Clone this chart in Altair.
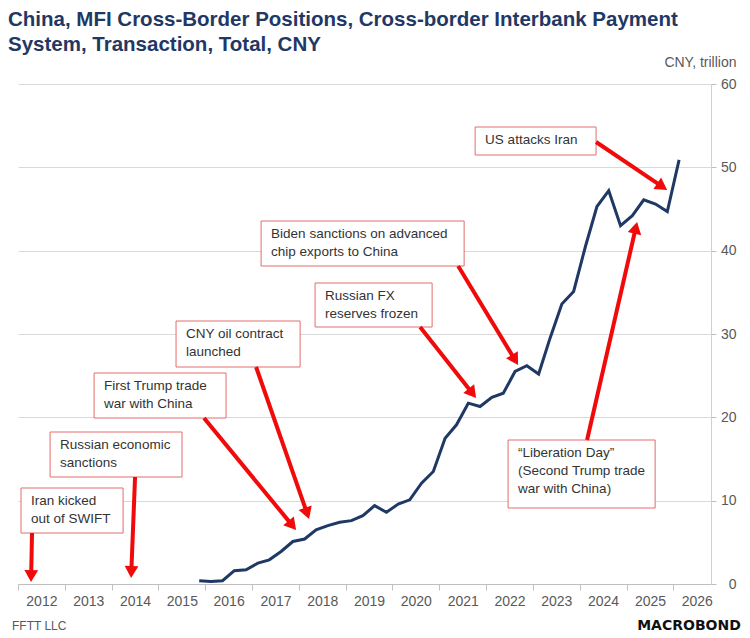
import math
import altair as alt
import pandas as pd

# ---------------- data ----------------
dates = ["2015-11-15", "2016-02-15", "2016-05-15", "2016-08-15", "2016-11-15",
         "2017-02-15", "2017-05-15", "2017-08-15", "2017-11-15",
         "2018-02-15", "2018-05-15", "2018-08-15", "2018-11-15",
         "2019-02-15", "2019-05-15", "2019-08-15", "2019-11-15",
         "2020-02-15", "2020-05-15", "2020-08-15", "2020-11-15",
         "2021-02-15", "2021-05-15", "2021-08-15", "2021-11-15",
         "2022-02-15", "2022-05-15", "2022-08-15", "2022-11-15",
         "2023-02-15", "2023-05-15", "2023-08-15", "2023-11-15",
         "2024-02-15", "2024-05-15", "2024-08-15", "2024-11-15",
         "2025-02-15", "2025-05-15", "2025-08-15", "2025-11-15",
         "2026-02-15"]
values = [0.4, 0.3, 0.4, 1.6, 1.7,
          2.5, 2.9, 3.9, 5.1,
          5.4, 6.5, 7.0, 7.4,
          7.6, 8.2, 9.4, 8.6,
          9.6, 10.1, 12.1, 13.5,
          17.5, 19.1, 21.7, 21.3,
          22.4, 22.9, 25.5, 26.2,
          25.2, 29.5, 33.6, 35.1,
          40.5, 45.3, 47.2, 43.0,
          44.2, 46.1, 45.6, 44.7,
          50.9]
year_ticks = list(range(2012, 2027))
y_ticks = [0, 10, 20, 30, 40, 50, 60]

# annotation texts and anchors (in years / CNY trillion)
ann_text = ["US attacks Iran",
            "Biden sanctions on advanced\nchip exports to China",
            "Russian FX\nreserves frozen",
            "CNY oil contract\nlaunched",
            "First Trump trade\nwar with China",
            "Russian economic\nsanctions",
            "Iran kicked\nout of SWIFT",
            "\u201cLiberation Day\u201d\n(Second Trump trade\nwar with China)"]
box_left = [2021.765, 2017.192, 2018.346, 2015.376, 2013.624, 2012.684, 2012.064, 2022.470]
box_right = [2024.350, 2021.530, 2020.846, 2018.026, 2016.444, 2015.504, 2014.244, 2025.611]
box_top = [54.84, 43.56, 36.12, 31.56, 25.32, 18.24, 11.52, 17.28]
box_bottom = [51.48, 38.16, 30.84, 26.04, 19.92, 12.84, 6.12, 9.12]
arrow_from_x = [2024.350, 2021.402, 2020.590, 2017.085, 2015.974, 2014.500, 2012.299, 2024.158]
arrow_from_y = [53.04, 38.16, 30.84, 26.04, 19.92, 12.84, 6.12, 17.28]
arrow_to_x = [2025.868, 2022.684, 2021.786, 2018.218, 2017.940, 2014.415, 2012.278, 2025.226]
arrow_to_y = [47.28, 26.28, 22.32, 7.80, 6.48, 0.72, 0.24, 43.44]

# ---------------- layout / style ----------------
W, H = 693, 500
X0 = pd.Timestamp("2012-01-01")
X1 = pd.Timestamp("2026-10-22")
YMAX = 60
NAVY = "#1f3864"
RED = "#f00a0a"
BOX = "#e36c6c"
GREY = "#595959"
FONT = "Liberation Sans, Arial, sans-serif"
HEAD = 190  # arrow-head symbol size


def yr(d):
    y = int(math.floor(d))
    a = pd.Timestamp(year=y, month=1, day=1)
    b = pd.Timestamp(year=y + 1, month=1, day=1)
    return a + (b - a) * (d - y)


def to_px(t, v):
    return (t - X0) / (X1 - X0) * W, H - v / YMAX * H


def from_px(x, y):
    return X0 + (X1 - X0) * (x / W), (H - y) / H * YMAX


series = pd.DataFrame({"date": pd.to_datetime(dates), "value": values})

boxes = pd.DataFrame({
    "bx1": [yr(v) for v in box_left], "bx2": [yr(v) for v in box_right],
    "by1": box_top, "by2": box_bottom, "label": ann_text,
})

rows = []
for fx, fy, tx, ty in zip(arrow_from_x, arrow_from_y, arrow_to_x, arrow_to_y):
    sx, sy = to_px(yr(fx), fy)
    ex, ey = to_px(yr(tx), ty)
    dx, dy = ex - sx, ey - sy
    L = math.hypot(dx, dy)
    ux, uy = dx / L, dy / L
    r = math.sqrt(HEAD) / 2
    h = math.sqrt(3) * r / 2
    cx, cy = ex - ux * h, ey - uy * h
    ct, cv = from_px(cx, cy)
    ang = math.degrees(math.atan2(ux, -uy)) % 360
    rows.append({"xs": yr(fx), "ys": fy, "xe": ct, "ye": cv, "ang": ang})
arrows = pd.DataFrame(rows)

x_scale = alt.Scale(domain=[alt.DateTime(year=2012, month=1, date=1),
                            alt.DateTime(year=2026, month=10, date=22)], nice=False)
y_scale = alt.Scale(domain=[0, YMAX], nice=False, zero=True)

x_axis = alt.Axis(values=[alt.DateTime(year=y, month=1, date=1) for y in year_ticks],
                  format="%Y", labelOffset=23.4, labelFlush=False, labelOverlap=False,
                  grid=False, domainColor="#bfbfbf", tickColor="#bfbfbf", tickSize=6,
                  labelColor=GREY, labelFontSize=14, labelFont=FONT, labelPadding=4,
                  title=None)
y_axis = alt.Axis(orient="right", values=y_ticks, grid=True, gridColor="#d9d9d9",
                  domainColor="#d0d0d0", tickColor="#bfbfbf", tickSize=5,
                  labelColor=GREY, labelFontSize=14, labelFont=FONT, labelAlign="right",
                  labelPadding=20, labelBaseline="middle",
                  title="CNY, trillion", titleAngle=0, titleAlign="right",
                  titleBaseline="middle", titleX=25, titleY=-22, titleColor=GREY,
                  titleFontSize=14, titleFontWeight="normal", titleFont=FONT)

line = alt.Chart(series).mark_line(color=NAVY, strokeWidth=3).encode(
    x=alt.X("date:T", scale=x_scale, axis=x_axis),
    y=alt.Y("value:Q", scale=y_scale, axis=y_axis),
)

rects = alt.Chart(boxes).mark_rect(fill="white", stroke=BOX, strokeWidth=1).encode(
    x=alt.X("bx1:T", scale=x_scale, axis=x_axis), x2="bx2:T",
    y=alt.Y("by1:Q", scale=y_scale, axis=y_axis), y2="by2:Q",
)

texts = alt.Chart(boxes).mark_text(align="left", baseline="top", dx=10, dy=6,
                                   fontSize=13.5, font=FONT, color="#333333",
                                   lineBreak="\n", lineHeight=18).encode(
    x=alt.X("bx1:T", scale=x_scale, axis=x_axis),
    y=alt.Y("by1:Q", scale=y_scale, axis=y_axis),
    text="label:N",
)

shafts = alt.Chart(arrows).mark_rule(color=RED, strokeWidth=4).encode(
    x=alt.X("xs:T", scale=x_scale, axis=x_axis), x2="xe:T",
    y=alt.Y("ys:Q", scale=y_scale, axis=y_axis), y2="ye:Q",
)

heads = alt.Chart(arrows).mark_point(shape="triangle-up", filled=True, size=HEAD,
                                     color=RED, opacity=1, strokeWidth=0).encode(
    x=alt.X("xe:T", scale=x_scale, axis=x_axis),
    y=alt.Y("ye:Q", scale=y_scale, axis=y_axis),
    angle=alt.Angle("ang:Q", scale=None),
)

source = alt.Chart(pd.DataFrame({"t": ["FFTT LLC"]})).mark_text(
    align="left", baseline="alphabetic", fontSize=12, font=FONT, color=GREY).encode(
    text="t:N", x=alt.value(-6), y=alt.value(546))

logo = alt.Chart(pd.DataFrame({"t": ["MACROBOND"]})).mark_text(
    align="center", baseline="alphabetic", fontSize=14, font="DejaVu Sans",
    fontWeight="bold", color="#111111").encode(
    text="t:N", x=alt.value(671), y=alt.value(546))

chart = alt.layer(line, rects, texts, shafts, heads, source, logo).properties(
    width=W, height=H,
    title=alt.TitleParams(
        text=["China, MFI Cross-Border Positions, Cross-border Interbank Payment",
              "System, Transaction, Total, CNY"],
        anchor="start", frame="group", dx=-10, dy=4, fontSize=20.5, font=FONT,
        fontWeight="bold", color=NAVY, lineHeight=24.5, offset=4),
    autosize=alt.AutoSizeParams(type="none"),
    padding={"left": 10, "top": 76, "right": 31, "bottom": 50},
    background="white",
).configure_view(stroke=None)

chart.save("out.html", embed_options={"renderer": "svg", "actions": False})
